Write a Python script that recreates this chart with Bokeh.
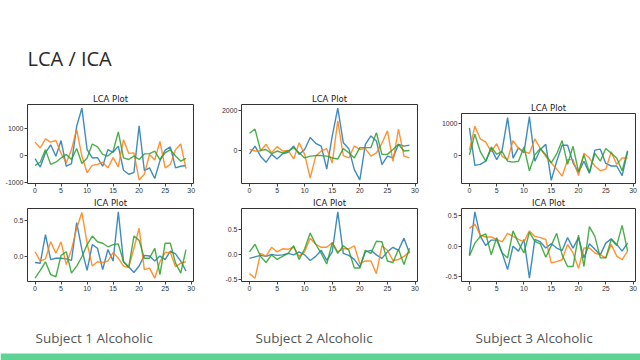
from bokeh.plotting import figure
from bokeh.layouts import column, row
from bokeh.models import Range1d, FixedTicker, PrintfTickFormatter, Label, BoxAnnotation
from bokeh.embed import file_html
from bokeh.resources import INLINE

# ---------------- data ----------------
x = list(range(30))
x_ticks = [0, 5, 10, 15, 20, 25, 30]

s1_lca_blue = [-120, -430, 100, 400, -30, 560, -400, -300, 1090, 1770, 220, -90, -80, -400, 220,
               120, 350, -550, -700, -640, 1110, -560, -460, -860, -200, 200, 320, -460, -400, -370]
s1_lca_orange = [500, 280, 620, 500, 560, 80, -270, 220, 970, -20, -640, -370, -330, -250, -460,
                 -80, -420, 590, 80, 100, -910, -700, 40, -170, 530, -460, -330, 220, 430, -490]
s1_lca_green = [-370, -250, 220, -330, -250, -90, 40, -150, 260, -300, -90, 430, 320, 40, -20,
                160, 880, -90, -150, -20, -150, 60, 70, 160, -150, 100, 220, -20, -210, -110]

s1_ica_blue = [-0.09, -0.10, 0.30, -0.05, -0.03, -0.03, -0.04, -0.06, 0.47, 0.09, -0.20, 0.16, 0.11, -0.19, 0.09,
               -0.07, 0.62, -0.08, -0.15, -0.23, -0.14, 0.01, 0.00, -0.07, 0.00, -0.05, 0.07, 0.03, -0.07, -0.21]
s1_ica_orange = [0.06, -0.07, -0.04, 0.20, 0.04, 0.20, -0.12, 0.09, 0.39, 0.61, 0.18, -0.14, -0.08, -0.09, -0.07,
                 0.05, -0.03, -0.14, -0.16, 0.11, 0.39, -0.19, -0.17, -0.31, -0.08, 0.05, 0.05, -0.15, -0.10, -0.08]
s1_ica_green = [-0.31, -0.20, -0.08, -0.26, -0.29, 0.01, 0.06, -0.24, -0.14, -0.01, 0.16, 0.28, 0.20, 0.18, 0.13,
                0.16, 0.17, -0.08, -0.16, 0.28, 0.22, -0.03, -0.03, 0.11, -0.26, 0.18, 0.18, -0.10, -0.24, 0.09]

s2_lca_blue = [-170, 220, -290, -600, -200, -430, -170, -100, 220, -200, 50, 650, 360, 220, -940,
               730, 2140, 390, 90, -970, -1490, 310, 730, 480, -720, -290, -380, 310, 220, 270]
s2_lca_orange = [50, -30, -30, 310, -120, 190, -30, 0, -430, 390, -200, -1400, -290, -30, 90,
                 -630, 1500, -260, -380, 220, 50, 90, -290, -120, 360, 990, -550, 1080, -290, -380]
s2_lca_green = [870, 1080, 0, 50, -170, -30, -120, -30, 140, -120, -380, -290, -260, -260, -290,
                -380, -430, 90, -120, -380, 140, 140, 140, 900, -200, -200, 50, 310, -30, 0]

s2_ica_blue = [-0.08, -0.05, -0.02, -0.04, 0.00, -0.02, -0.01, 0.02, -0.01, 0.05, -0.01, -0.12, -0.04, 0.08, -0.12,
               0.05, 0.84, 0.02, -0.02, -0.10, -0.25, 0.05, 0.08, -0.01, -0.08, 0.05, 0.14, 0.08, 0.32, 0.02]
s2_ica_orange = [-0.38, -0.47, 0.02, -0.04, 0.14, 0.05, 0.11, 0.10, 0.14, -0.04, 0.05, 0.32, 0.20, 0.14, 0.14,
                 0.23, 0.05, 0.11, 0.11, 0.17, -0.19, -0.13, -0.13, -0.38, 0.17, 0.08, -0.12, -0.10, -0.04, 0.05]
s2_ica_green = [0.05, 0.20, -0.04, -0.16, -0.01, -0.10, -0.04, 0.02, 0.17, -0.10, 0.11, 0.42, 0.20, 0.02, -0.19,
                0.23, 0.02, 0.17, 0.08, -0.27, -0.27, 0.08, 0.02, 0.26, 0.25, -0.13, -0.16, 0.10, -0.20, 0.12]

s3_lca_blue = [870, -310, -280, -180, 220, -130, 170, 1190, -80, 240, 90, 1220, -180, 190, 350,
               -780, -180, 320, 320, -230, -530, -180, -560, 170, 200, -250, -330, -330, -630, 120]
s3_lca_orange = [170, 920, 520, 420, 120, 370, -30, -130, 470, 220, 120, 70, 520, 220, -30,
                 -230, -430, -650, -130, -130, -630, 70, -80, -330, -480, -430, 120, -280, -80, -80]
s3_lca_green = [20, 670, 120, -180, 270, 40, 120, -180, -210, -180, 270, -480, 20, 220, 20,
                -230, 50, 470, -280, 290, -510, 20, -530, 70, -180, 220, 70, -80, -480, 150]

s3_ica_blue = [-0.14, 0.56, 0.16, 0.01, 0.10, 0.10, -0.11, -0.38, 0.00, -0.08, 0.11, -0.52, 0.11, 0.07, -0.03,
               0.04, -0.03, -0.07, 0.14, -0.03, 0.14, -0.19, 0.04, -0.05, -0.14, 0.05, 0.12, 0.03, -0.08, 0.05]
s3_ica_orange = [0.29, 0.36, 0.18, 0.15, 0.15, 0.11, 0.07, 0.21, 0.16, 0.11, 0.07, 0.25, 0.16, 0.14, 0.11,
                 -0.27, -0.25, -0.22, 0.03, -0.11, -0.36, -0.03, -0.03, -0.11, -0.14, -0.19, 0.03, -0.16, -0.22, -0.08]
s3_ica_green = [-0.16, 0.05, 0.16, 0.20, -0.14, 0.14, -0.11, -0.19, 0.25, 0.05, -0.11, 0.23, 0.08, 0.04, -0.18,
                0.01, 0.21, -0.14, -0.33, -0.33, 0.18, -0.33, 0.32, 0.16, -0.19, -0.19, 0.11, 0.01, 0.34, -0.08]

lca_ticks = {1: [-2000, -1000, 0, 1000, 2000], 2: [-2000, 0, 2000], 3: [-1000, 0, 1000]}
ica_ticks = [-0.5, 0.0, 0.5]
captions = ["Subject 1 Alcoholic", "Subject 2 Alcoholic", "Subject 3 Alcoholic"]
page_title = "LCA / ICA"

COLORS = ["#1f77b4", "#ff7f0e", "#2ca02c"]
TICK_FONT = "Liberation Sans"


def make_plot(title, series, yticks, fmt, w, h, bl, br, bt, bb):
    allv = [v for s in series for v in s]
    lo, hi = min(allv), max(allv)
    pad = 0.05 * (hi - lo)
    p = figure(width=w, height=h, output_backend="svg", toolbar_location=None,
               x_range=Range1d(-1.45, 30.45), y_range=Range1d(lo - pad, hi + pad),
               min_border_left=bl, min_border_right=br, min_border_top=bt, min_border_bottom=bb)
    for s, c in zip(series, COLORS):
        p.line(x, s, line_color=c, line_width=1.4, line_alpha=0.85)
    p.title.text = title
    p.title.align = "center"
    p.title.text_font = "DejaVu Sans"
    p.title.text_font_style = "normal"
    p.title.text_font_size = "8.5px"
    p.title.text_color = "#222222"
    p.title.standoff = 1
    p.grid.visible = False
    p.outline_line_color = "#333333"
    p.outline_line_width = 1
    p.background_fill_color = "white"
    p.border_fill_color = None
    for ax in (p.xaxis[0], p.yaxis[0]):
        ax.axis_line_color = None
        ax.major_tick_in = 0
        ax.major_tick_out = 3
        ax.major_tick_line_color = "#444444"
        ax.minor_tick_line_color = None
        ax.major_label_text_font = TICK_FONT
        ax.major_label_text_font_size = "7px"
        ax.major_label_text_color = "#333333"
        ax.major_label_standoff = 1
    p.xaxis[0].ticker = FixedTicker(ticks=x_ticks)
    p.xaxis[0].formatter = PrintfTickFormatter(format="%d")
    p.yaxis[0].ticker = FixedTicker(ticks=yticks)
    p.yaxis[0].formatter = PrintfTickFormatter(format=fmt)
    return p


W, H = 640, 360
HEAD_H, LCA_H, ICA_H = 88, 107, 103
FOOT_H = H - HEAD_H - LCA_H - ICA_H

# column geometry: (width, left border, right border, lca top border)
geom = [(218, 27, 25, 16), (220, 23, 21, 16), (202, 20, 5, 25)]
lca_series = [(s1_lca_blue, s1_lca_orange, s1_lca_green),
              (s2_lca_blue, s2_lca_orange, s2_lca_green),
              (s3_lca_blue, s3_lca_orange, s3_lca_green)]
ica_series = [(s1_ica_blue, s1_ica_orange, s1_ica_green),
              (s2_ica_blue, s2_ica_orange, s2_ica_green),
              (s3_ica_blue, s3_ica_orange, s3_ica_green)]

cols = []
for i in range(3):
    w, bl, br, bt = geom[i]
    lca = make_plot("LCA Plot", lca_series[i], lca_ticks[i + 1], "%d", w, LCA_H, bl, br, bt, 12)
    ica = make_plot("ICA Plot", ica_series[i], ica_ticks, "%.1f", w, ICA_H, bl, br, 11, 17)
    cols.append(column(lca, ica))

header = figure(width=W, height=HEAD_H, output_backend="svg", toolbar_location=None,
                x_range=Range1d(0, W), y_range=Range1d(0, HEAD_H), min_border=0)
header.axis.visible = False
header.grid.visible = False
header.outline_line_color = None
header.add_layout(Label(x=27, y=30, text=page_title, text_font="Open Sans",
                        text_font_size="20px", text_color="#2a2a2a", text_baseline="alphabetic"))

footer = figure(width=W, height=FOOT_H, output_backend="svg", toolbar_location=None,
                x_range=Range1d(0, W), y_range=Range1d(0, FOOT_H), min_border=0)
footer.axis.visible = False
footer.grid.visible = False
footer.outline_line_color = None
for cx, txt in zip([35, 255, 475], captions):
    footer.add_layout(Label(x=cx, y=23, text=txt, text_font="Open Sans",
                            text_font_size="13.5px", text_color="#555555", text_baseline="alphabetic"))
footer.add_layout(BoxAnnotation(left=0, right=W, bottom=0, top=7, fill_color="#5fd394",
                                fill_alpha=1, line_color=None))

layout = column(header, row(*cols), footer)
open("out.html", "w").write(file_html(layout, INLINE))
